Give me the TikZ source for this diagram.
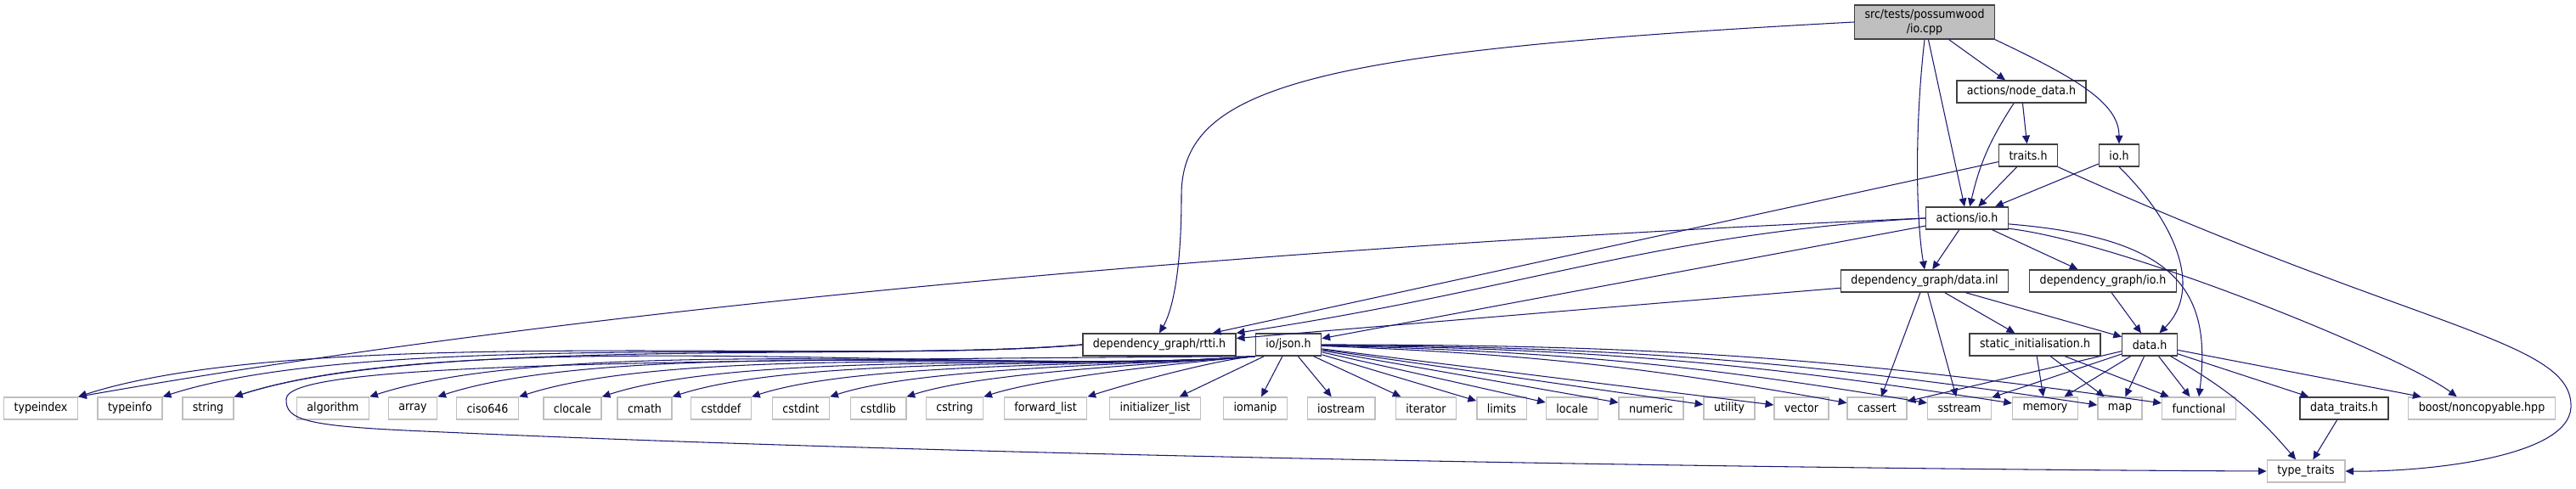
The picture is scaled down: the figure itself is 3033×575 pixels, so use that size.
\documentclass[tikz,border=0pt]{standalone}
\usepackage{fontspec}
\setmainfont{DejaVu Sans}[FakeStretch=0.9]
\usetikzlibrary{arrows.meta}
\definecolor{edgeblue}{RGB}{25,25,112}
\definecolor{boxgray}{RGB}{191,191,191}
\definecolor{boxline}{RGB}{64,64,64}

\begin{document}
\begin{tikzpicture}[x=0.02cm, y=-0.02cm, >={Triangle[length=5.5pt,width=5pt]},
    projfile/.style={draw=boxline, line width=0.8pt, fill=white, font=\fontsize{8pt}{9.5pt}\selectfont,
        inner xsep=0.24cm, inner ysep=0pt, minimum height=0.52cm},
    sysfile/.style={projfile, draw=boxgray},
    dep/.style={->, edgeblue, line width=0.6pt},
    fanleft/.style={out=185, in=18, looseness=0.6}]

    \useasboundingbox (0,0) rectangle (3033,575);

    % Root file
    \node[projfile, fill=boxgray, align=center, minimum height=0.8cm] (iocpp) at (2266,26) {src/tests/possumwood\\/io.cpp};

    % Project headers
    \node[projfile] (nodedata) at (2380,108) {actions/node\_data.h};
    \node[projfile] (traits) at (2388,183) {traits.h};
    \node[projfile] (ioh) at (2495,183) {io.h};
    \node[projfile] (actio) at (2316,257) {actions/io.h};
    \node[projfile] (datainl) at (2266,331) {dependency\_graph/data.inl};
    \node[projfile] (dgio) at (2476,331) {dependency\_graph/io.h};
    \node[projfile] (rtti) at (1365,406) {dependency\_graph/rtti.h};
    \node[projfile] (json) at (1517,406) {io/json.h};
    \node[projfile] (statinit) at (2396,406) {static\_initialisation.h};
    \node[projfile] (datah) at (2531,406) {data.h};
    \node[projfile] (datatraits) at (2760,481) {data\_traits.h};

    % System headers
    \foreach \name/\x in {typeindex/48, typeinfo/153, string/245, algorithm/392, array/486, ciso646/574,
        clocale/674, cmath/759, cstddef/849, cstdint/943, cstdlib/1034, cstring/1124, iomanip/1478,
        iostream/1579, iterator/1679, limits/1768, locale/1851, numeric/1944, utility/2036, vector/2121,
        cassert/2210, sstream/2307, memory/2408, map/2496, functional/2589}
        \node[sysfile] (\name) at (\x,481) {\name};
    \node[sysfile] (fwdlist) at (1231,481) {forward\_list};
    \node[sysfile] (initlist) at (1360,481) {initializer\_list};
    \node[sysfile] (boost) at (2922,481) {boost/noncopyable.hpp};
    \node[sysfile] (typetraits) at (2715,555) {type\_traits};

    % From io.cpp
    \draw[dep] (iocpp.west) .. controls (1550,60) and (1391,100) .. (1391,230) .. controls (1391,330) and (1378,370) .. (rtti.north);
    \draw[dep] (iocpp.south) .. controls (2254,150) and (2256,260) .. (datainl.north);
    \draw[dep] (iocpp) -- (actio);
    \draw[dep] (iocpp) -- (nodedata);
    \draw[dep] (iocpp.south east) .. controls (2440,90) and (2495,120) .. (ioh.north);

    % From actions/node_data.h
    \draw[dep] (nodedata) -- (traits);
    \draw[dep] (nodedata) to[bend right=10] (actio);

    % From traits.h
    \draw[dep] (traits) -- (actio);
    \draw[dep] (traits) -- (rtti);
    \draw[dep] (traits.south east) .. controls (2850,390) and (3030,400) .. (3027,480) .. controls (3024,540) and (2850,556) .. (typetraits.east);

    % From io.h
    \draw[dep] (ioh) -- (actio);
    \draw[dep] (ioh.south) .. controls (2560,260) and (2595,340) .. (datah.50);

    % From actions/io.h
    \foreach \dst in {datainl, dgio, json}
        \draw[dep] (actio) -- (\dst);
    \draw[dep] (actio.west) .. controls (1950,275) and (1800,340) .. (rtti.north east);
    \draw[dep] (actio.west) .. controls (1500,290) and (700,360) .. (typeindex.north east);
    \draw[dep] (actio.-8) .. controls (2560,280) and (2605,340) .. (functional.north);
    \draw[dep] (actio.-14) .. controls (2500,285) and (2830,420) .. (boost.155);

    % From dependency_graph/data.inl and io.h
    \foreach \dst in {rtti, statinit, datah, cassert, sstream}
        \draw[dep] (datainl) -- (\dst);
    \draw[dep] (dgio) -- (datah);

    % From static_initialisation.h and data.h
    \foreach \dst in {memory, map, functional}
        \draw[dep] (statinit) -- (\dst);
    \foreach \dst in {cassert, sstream, memory, map, functional, datatraits, boost}
        \draw[dep] (datah) -- (\dst);
    \draw[dep] (datah) to[bend left=10] (typetraits);
    \draw[dep] (datatraits) -- (typetraits);

    % From dependency_graph/rtti.h
    \foreach \dst in {typeindex, typeinfo, string}
        \draw[dep] (rtti.west) to[fanleft] (\dst.north east);

    % From io/json.h
    \foreach \dst in {string, algorithm, array, ciso646, clocale, cmath, cstddef, cstdint, cstdlib, cstring, fwdlist}
        \draw[dep] (json.south west) to[fanleft] (\dst.north east);
    \foreach \dst in {initlist, iomanip, iostream, iterator, limits, locale, numeric, utility, vector}
        \draw[dep] (json) -- (\dst);
    \foreach \dst in {cassert, sstream, memory, map, functional}
        \draw[dep] (json) to[bend left=4] (\dst);
    \draw[dep] (json.south west) .. controls (700,425) and (338,430) .. (337,470) .. controls (336,495) and (360,502) .. (500,508) .. controls (1200,540) and (2200,553) .. (typetraits.west);

\end{tikzpicture}
\end{document}
